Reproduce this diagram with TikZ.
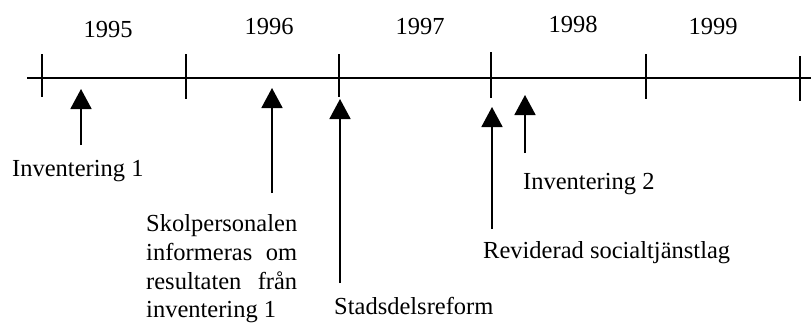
\documentclass[tikz,border=0pt]{standalone}
\usepackage{fontspec}
\setmainfont{Liberation Serif}
\usetikzlibrary{arrows.meta}
\begin{document}
\begin{tikzpicture}[x=1pt,y=-1pt,
  axisline/.style={line width=1.8pt},
  tickline/.style={line width=1.5pt},
  evt/.style={line width=1.8pt,-{Triangle[length=20pt,width=21pt]}},
  yearlbl/.style={inner sep=0pt,anchor=base,font=\fontsize{24.5}{28.5}\selectfont},
  evlbl/.style={inner sep=0pt,anchor=base west,font=\fontsize{24.5}{28.5}\selectfont},
]
\useasboundingbox (0,0) rectangle (811,324);
% axis
\coordinate (axL) at (27,78);
\coordinate (axR) at (811,78);
\draw[axisline] (axL) -- (axR);
% ticks
\foreach \n/\x/\t/\b in {t0/42/54/97, t1/186/54/99, t2/339/54/97, t3/491/52/98, t4/646/54/99, t5/800/56/101}{
  \coordinate (\n top) at (\x,\t);
  \coordinate (\n bot) at (\x,\b);
  \draw[tickline] (\n top) -- (\n bot);
}
% years
\node[yearlbl] (y95) at (108,37) {1995};
\node[yearlbl] (y96) at (269,34) {1996};
\node[yearlbl] (y97) at (420,34) {1997};
\node[yearlbl] (y98) at (573,32) {1998};
\node[yearlbl] (y99) at (713,34) {1999};
% event arrows
\coordinate (a1foot) at (81,145);  \coordinate (a1tip) at (81,89);
\coordinate (a2foot) at (272,193); \coordinate (a2tip) at (272,88);
\coordinate (a3foot) at (340,283); \coordinate (a3tip) at (340,99);
\coordinate (a4foot) at (492,229); \coordinate (a4tip) at (492,107);
\coordinate (a5foot) at (525,153); \coordinate (a5tip) at (525,95);
\draw[evt] (a1foot) -- (a1tip);
\draw[evt] (a2foot) -- (a2tip);
\draw[evt] (a3foot) -- (a3tip);
\draw[evt] (a4foot) -- (a4tip);
\draw[evt] (a5foot) -- (a5tip);
% event labels
\node[evlbl] (inv1) at (12,176) {Inventering 1};
\node[evlbl] (skol1) at (146,231) {Skolpersonalen};
\node[evlbl] (skol2) at (146,260) {\makebox[151pt][s]{informeras om}};
\node[evlbl] (skol3) at (146,289) {\makebox[151pt][s]{resultaten från}};
\node[evlbl] (skol4) at (146,317) {inventering 1};
\node[evlbl] (stad) at (334,314) {Stadsdelsreform};
\node[evlbl] (inv2) at (523,189) {Inventering 2};
\node[evlbl] (rev) at (483,258) {Reviderad socialtjänstlag};
\end{tikzpicture}
\end{document}
